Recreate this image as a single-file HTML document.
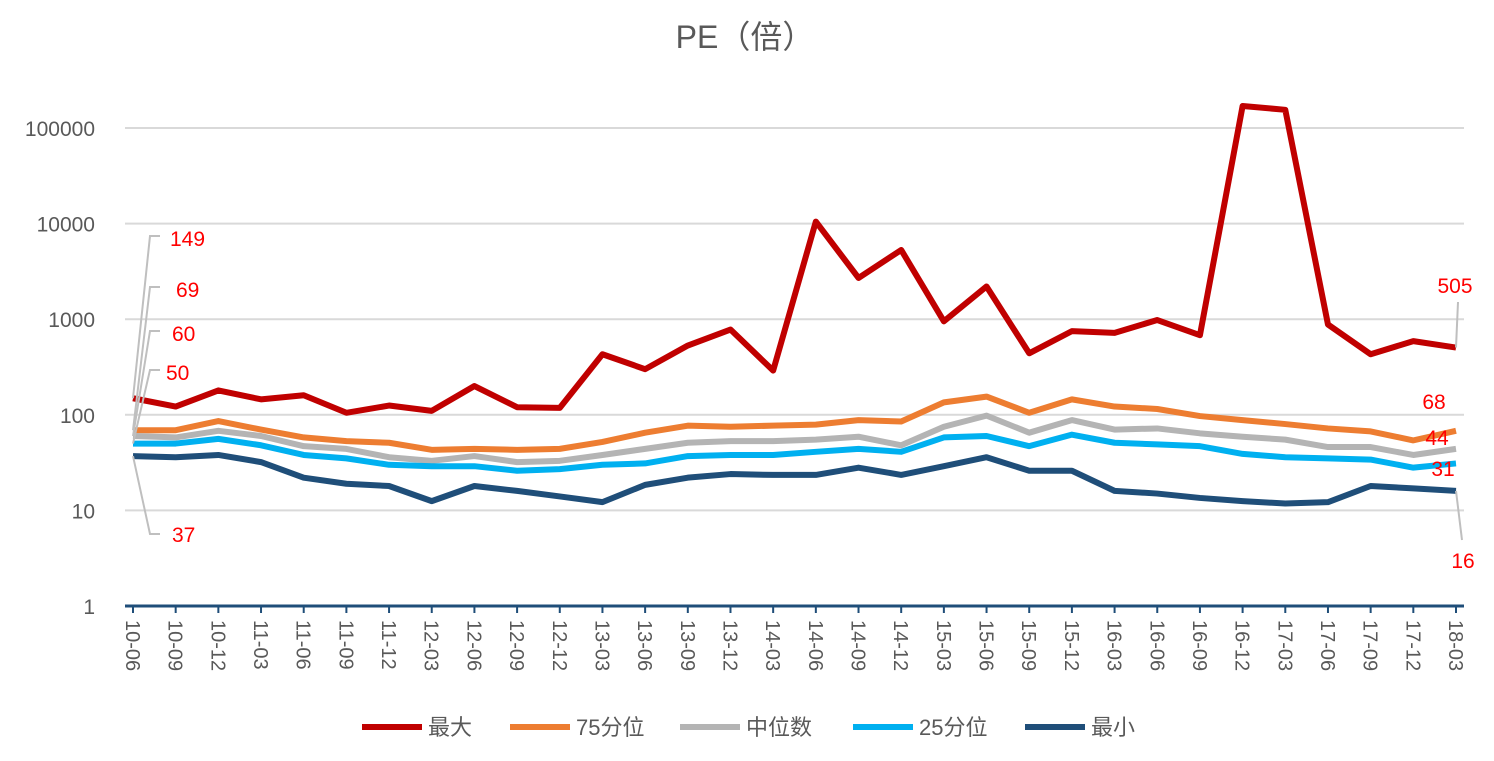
<!DOCTYPE html>
<html><head><meta charset="utf-8"><style>
body{margin:0;background:#fff;}
svg text{font-family:"Liberation Sans","Noto Sans CJK SC",sans-serif;}
</style></head><body>
<svg id="chart" width="1494" height="756">
<text x="745" y="48" text-anchor="middle" font-size="32" fill="#595959">PE（倍）</text>
<g id="grid"></g><g id="xaxis"></g><g id="series"></g><g id="labels"></g><g id="legend"></g>
</svg>
<script>
const categories=["10-06","10-09","10-12","11-03","11-06","11-09","11-12","12-03","12-06","12-09","12-12","13-03","13-06","13-09","13-12","14-03","14-06","14-09","14-12","15-03","15-06","15-09","15-12","16-03","16-06","16-09","16-12","17-03","17-06","17-09","17-12","18-03"];
const maxVals=[149,122,180,145,160,105,125,110,200,120,118,430,300,530,780,290,10500,2700,5300,950,2200,440,750,720,980,680,170000,155000,880,430,590,505];
const p75Vals=[69,69,86,70,58,53,51,43,44,43,44,52,65,77,75,77,79,88,85,135,155,105,145,122,115,97,88,80,72,67,54,68];
const medVals=[60,58,68,60,47,44,36,33,37,32,33,38,44,51,53,53,55,59,48,75,98,65,88,70,72,64,59,55,46,46,38,44];
const p25Vals=[50,50,56,48,38,35,30,29,29,26,27,30,31,37,38,38,41,44,41,58,60,47,62,51,49,47,39,36,35,34,28,31];
const minVals=[37,36,38,32,22,19,18,12.5,18,16,14,12.2,18.5,22,24,23.5,23.5,28,23.5,29,36,26,26,16,15,13.5,12.5,11.8,12.2,18,17,16];
const yTicks=[1,10,100,1000,10000,100000];
const seriesNames=["最大","75分位","中位数","25分位","最小"];
const colors=["#C00000","#ED7D31","#B4B4B4","#00B0F0","#1F4E79"];
const NS="http://www.w3.org/2000/svg";
const y=v=>606-95.6*Math.log10(v);
const x=i=>133+i*(1456-133)/(categories.length-1);
function mk(t,a,p){const e=document.createElementNS(NS,t);for(const k in a)e.setAttribute(k,a[k]);p.appendChild(e);return e;}
const G=document.getElementById('grid');
yTicks.forEach(v=>{
 if(v>1){const l=mk('line',{x1:125,x2:1464,y1:y(v),y2:y(v),stroke:'#D9D9D9','stroke-width':2},G);
 
 }
 const t=mk('text',{x:95,y:y(v)+8,'text-anchor':'end','font-size':21,fill:'#595959'},G);t.textContent=v;
 
 
});
const X=document.getElementById('xaxis');
const ax=mk('line',{x1:125,x2:1464,y1:606,y2:606,stroke:'#1F4E79','stroke-width':3},X);


categories.forEach((c,i)=>{
 const tk=mk('line',{x1:x(i),x2:x(i),y1:606,y2:613,stroke:'#1F4E79','stroke-width':2},X);
 
 
 const t=mk('text',{x:0,y:0,transform:`translate(${x(i)-7},620) rotate(90)`,'font-size':20,fill:'#595959'},X);t.textContent=c;
 
 
});
const S=document.getElementById('series');
[maxVals,p75Vals,medVals,p25Vals,minVals].forEach((arr,k)=>{
 const p=mk('polyline',{points:arr.map((v,i)=>x(i)+','+y(v)).join(' '),fill:'none',stroke:colors[k],'stroke-width':6,'stroke-linejoin':'round'},S);
 
 
});
const L=document.getElementById('labels');
const all=[maxVals,p75Vals,medVals,p25Vals,minVals];
const leftPos=[[170,238],[176,289],[172,333],[166,372],[172,534]];
const rightPos=[[1455,285],[1434,401],[1437,437],[1443,468],[1463,560]];
all.forEach((arr,k)=>{
 const [lx,ly]=leftPos[k];
 const ln=mk('polyline',{points:`${x(0)},${y(arr[0])} ${150},${ly+(k==4?0:-2)} ${160},${ly+(k==4?0:-2)}`,fill:'none',stroke:'#BFBFBF','stroke-width':2},L);
 
 
 const t=mk('text',{x:lx,y:ly+8,'font-size':21,fill:'#FF0000'},L);t.textContent=arr[0];
 
 
 const [rx,ry]=rightPos[k];
 const n=arr.length-1;
 if(k==0||k==4){const r=mk('line',{x1:x(n),y1:y(arr[n]),x2:k==0?1458:1462,y2:k==0?302:540,stroke:'#BFBFBF','stroke-width':2},L);
 
 }
 const t2=mk('text',{x:rx,y:ry+8,'text-anchor':'middle','font-size':21,fill:'#FF0000'},L);t2.textContent=arr[n];
 
 
});
const LG=document.getElementById('legend');
const lx=[362,510,680,853,1025];
seriesNames.forEach((n,k)=>{
 const l=mk('line',{x1:lx[k],x2:lx[k]+60,y1:727,y2:727,stroke:colors[k],'stroke-width':6},LG);
 
 
 const t=mk('text',{x:lx[k]+66,y:735,'font-size':22,fill:'#595959'},LG);t.textContent=n;
 
 
});
</script>
</body></html>
